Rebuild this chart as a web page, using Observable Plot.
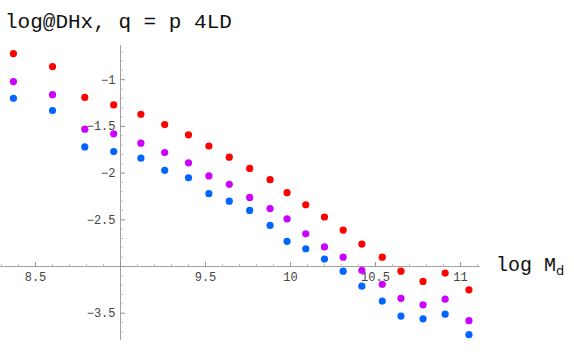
<!DOCTYPE html>
<html>
<head>
<meta charset="utf-8">
<script src="https://cdn.jsdelivr.net/npm/d3@7"></script>
<script src="https://cdn.jsdelivr.net/npm/@observablehq/plot@0.6"></script>
<style>
  html, body { margin: 0; padding: 0; background: #fff; }
  #chart svg { display: block; }
</style>
</head>
<body>
<div id="chart"></div>
<script>
// ---- data ----
const logMd = [8.37, 8.60, 8.79, 8.96, 9.12, 9.26, 9.40, 9.52, 9.64, 9.76, 9.88, 9.98, 10.09, 10.20, 10.31, 10.42, 10.54, 10.65, 10.78, 10.91, 11.05];
const seriesRed = [-0.72, -0.86, -1.19, -1.27, -1.37, -1.48, -1.59, -1.71, -1.83, -1.95, -2.07, -2.21, -2.34, -2.47, -2.61, -2.76, -2.90, -3.05, -3.16, -3.07, -3.25];
const seriesPurple = [-1.02, -1.16, -1.53, -1.58, -1.68, -1.78, -1.89, -2.03, -2.12, -2.26, -2.38, -2.49, -2.65, -2.79, -2.90, -3.04, -3.19, -3.34, -3.41, -3.35, -3.58];
const seriesBlue = [-1.20, -1.33, -1.72, -1.77, -1.84, -1.97, -2.05, -2.22, -2.30, -2.40, -2.56, -2.73, -2.81, -2.92, -3.05, -3.21, -3.37, -3.53, -3.56, -3.51, -3.73];
const seriesColors = ["#ff0000", "#cc00ff", "#0066ff"];

const xTickLabels = [8.5, 9.5, 10, 10.5, 11];
const yTickLabels = [-1, -1.5, -2, -2.5, -3.5];
const xMajorTicks = [8.5, 9, 9.5, 10, 10.5, 11];
const yMajorTicks = [-1, -1.5, -2, -2.5, -3, -3.5];
const xMinorTicks = [8.3, 8.4, 8.6, 8.7, 8.8, 8.9, 9.1, 9.2, 9.3, 9.4, 9.6, 9.7, 9.8, 9.9, 10.1, 10.2, 10.3, 10.4, 10.6, 10.7, 10.8, 10.9, 11.1];
const yMinorTicks = [-0.7, -0.8, -0.9, -1.1, -1.2, -1.3, -1.4, -1.6, -1.7, -1.8, -1.9, -2.1, -2.2, -2.3, -2.4, -2.6, -2.7, -2.8, -2.9, -3.1, -3.2, -3.3, -3.4, -3.6, -3.7];
const originX = 9;
const originY = -3;

const titleText = "log@DHx, q = p 4LD";

// ---- build ----
const pts = vals => logMd.map((x, i) => ({x, y: vals[i]}));

const mono = "'Liberation Mono', 'Courier New', monospace";
const fmt = d => String(d).replace("-", "\u2212");

const tickUp = len => ({draw(ctx) { ctx.moveTo(0, 0); ctx.lineTo(0, -len); }});
const tickRight = len => ({draw(ctx) { ctx.moveTo(0, 0); ctx.lineTo(len, 0); }});

const chart = Plot.plot({
  width: 574,
  height: 354,
  marginLeft: 0,
  marginRight: 94,
  marginTop: 45,
  marginBottom: 14,
  style: {fontFamily: mono, background: "#fff"},
  x: {domain: [8.294, 11.118], axis: null},
  y: {domain: [-3.792, -0.634], axis: null},
  marks: [
    Plot.ruleY([originY], {stroke: "#a0a0a0", strokeWidth: 1}),
    Plot.ruleX([originX], {stroke: "#a0a0a0", strokeWidth: 1}),
    Plot.dot(xMinorTicks, {x: d => d, y: () => originY, symbol: tickUp(2.5), stroke: "#c0c0c0", fill: "none", strokeWidth: 1}),
    Plot.dot(xMajorTicks, {x: d => d, y: () => originY, symbol: tickUp(4.5), stroke: "#909090", fill: "none", strokeWidth: 1}),
    Plot.dot(yMinorTicks, {x: () => originX, y: d => d, symbol: tickRight(2.5), stroke: "#c0c0c0", fill: "none", strokeWidth: 1}),
    Plot.dot(yMajorTicks, {x: () => originX, y: d => d, symbol: tickRight(4.5), stroke: "#909090", fill: "none", strokeWidth: 1}),
    Plot.text(xTickLabels, {x: d => d, y: () => originY, text: fmt, dy: 11, fontSize: 12, fill: "#444", fontFamily: mono}),
    Plot.text(yTickLabels, {x: () => originX, y: d => d, text: fmt, dx: -5, textAnchor: "end", fontSize: 12, fill: "#444", fontFamily: mono}),
    Plot.dot(pts(seriesRed), {x: "x", y: "y", fill: seriesColors[0], r: 3.6, stroke: "none"}),
    Plot.dot(pts(seriesPurple), {x: "x", y: "y", fill: seriesColors[1], r: 3.6, stroke: "none"}),
    Plot.dot(pts(seriesBlue), {x: "x", y: "y", fill: seriesColors[2], r: 3.6, stroke: "none"})
  ]
});

document.getElementById("chart").appendChild(chart);

// title and axis label as text in the SVG
const svg = d3.select(chart);
svg.append("text")
  .attr("x", 5).attr("y", 28)
  .attr("text-anchor", "start")
  .attr("font-family", mono).attr("font-size", 21).attr("fill", "#111")
  .attr("xml:space", "preserve")
  .text(titleText);

const lab = svg.append("text")
  .attr("x", 496).attr("y", 271)
  .attr("text-anchor", "start")
  .attr("font-family", mono).attr("font-size", 20).attr("fill", "#111")
  .attr("xml:space", "preserve");
lab.append("tspan").text("log M");
lab.append("tspan").attr("font-size", 13).attr("dy", 4).attr("font-family", "'DejaVu Sans', sans-serif").text("d");
</script>
</body>
</html>
